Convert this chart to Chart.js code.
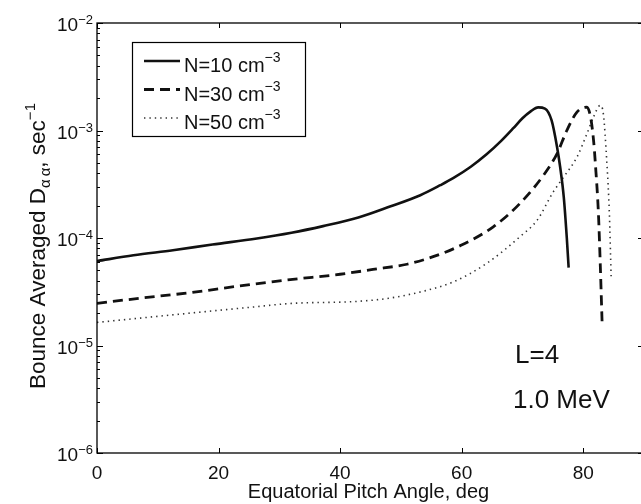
<!DOCTYPE html>
<html>
<head>
<meta charset="utf-8">
<title>Bounce Averaged D_aa vs Equatorial Pitch Angle</title>
<script src="https://cdn.jsdelivr.net/npm/chart.js"></script>
<style>
  html, body { margin:0; padding:0; background:#fff; overflow:hidden; }
  #wrap { width:641px; height:504px; overflow:hidden; }
  canvas { display:block; }
</style>
</head>
<body>
<div id="wrap"><canvas id="chart" width="652" height="504"></canvas></div>
<script>
// values (pitch angle in deg, D_aa in 1/sec)
const pitchN10 = [0, 6, 12.5, 19, 26.3, 32, 37.2, 43, 48.2, 53.2, 56.5, 58.6, 61.5, 64.1, 66.5, 68.5, 70.0, 71.3, 72.6, 73.7, 74.8, 75.7, 76.2, 76.8, 77.3, 77.6];
const daaN10   = [6.1e-5, 6.9e-5, 7.7e-5, 8.7e-5, 9.9e-5, 1.12e-4, 1.29e-4, 1.55e-4, 1.96e-4, 2.5e-4, 3.1e-4, 3.6e-4, 4.6e-4, 6.0e-4, 8.0e-4, 1.05e-3, 1.3e-3, 1.5e-3, 1.64e-3, 1.6e-3, 1.24e-3, 7.0e-4, 4.6e-4, 2.4e-4, 1.0e-4, 5.3e-5];

const pitchN30 = [0, 7, 15.3, 23, 31.8, 40, 45.4, 51, 55.3, 59.8, 65.2, 69.6, 73.7, 75.7, 77.3, 79.0, 80.6, 81.2, 81.7, 82.0, 82.5, 82.8, 83.1];
const daaN30   = [2.47e-5, 2.75e-5, 3.1e-5, 3.55e-5, 4.1e-5, 4.6e-5, 5.1e-5, 5.7e-5, 6.7e-5, 8.5e-5, 1.27e-4, 2.1e-4, 4.0e-4, 6.1e-4, 1.0e-3, 1.49e-3, 1.65e-3, 1.34e-3, 8.1e-4, 4.9e-4, 1.7e-4, 5.8e-5, 1.68e-5];

const pitchN50 = [0, 15.3, 26.3, 31.8, 42.7, 48, 53.7, 58.6, 64.1, 69.6, 72.4, 75.1, 76.8, 79.0, 80.6, 81.7, 82.8, 83.3, 83.9, 84.3, 84.6];
const daaN50   = [1.64e-5, 2.0e-5, 2.3e-5, 2.46e-5, 2.57e-5, 2.75e-5, 3.2e-5, 3.9e-5, 5.8e-5, 1.03e-4, 1.46e-4, 2.7e-4, 3.7e-4, 5.7e-4, 9.3e-4, 1.34e-3, 1.71e-3, 1.44e-3, 4.9e-4, 1.7e-4, 4.2e-5];

const seriesNames = ['N=10 cm', 'N=30 cm', 'N=50 cm'];
const seriesUnitExp = '\u22123';
const xTicks = [0, 20, 40, 60, 80];
const yTickExps = [-6, -5, -4, -3, -2];
const notes = ['L=4', '1.0 MeV'];

const FONT = '"Liberation Sans", Arial, Helvetica, sans-serif';
const toPts = (xs, ys) => xs.map((v, i) => ({ x: v, y: ys[i] }));

const styles = [
  { borderWidth: 2.6, borderDash: [], borderColor: '#111' },
  { borderWidth: 2.8, borderDash: [10, 6], borderColor: '#111' },
  { borderWidth: 1.6, borderDash: [1.4, 4], borderColor: '#333' }
];

function seg(ctx, x1, y1, x2, y2) {
  ctx.beginPath(); ctx.moveTo(x1, y1); ctx.lineTo(x2, y2); ctx.stroke();
}

// text with a raised/lowered small part
function drawPieces(ctx, pieces, x, y) {
  let cx = x;
  pieces.forEach(p => {
    ctx.font = p.size + 'px ' + FONT;
    ctx.fillText(p.t, cx, y + (p.dy || 0));
    cx += ctx.measureText(p.t).width;
  });
  return cx - x;
}
function piecesWidth(ctx, pieces) {
  let w = 0;
  pieces.forEach(p => { ctx.font = p.size + 'px ' + FONT; w += ctx.measureText(p.t).width; });
  return w;
}

const framePlugin = {
  id: 'frame',
  afterDraw(chart) {
    const { ctx, chartArea: a, scales: { x, y } } = chart;
    ctx.save();
    ctx.strokeStyle = '#000';
    ctx.fillStyle = '#111';
    ctx.lineWidth = 1.3;
    ctx.strokeRect(a.left, a.top, a.right - a.left, a.bottom - a.top);

    // ticks, pointing inward
    ctx.lineWidth = 1;
    xTicks.forEach(v => {
      const px = Math.round(x.getPixelForValue(v)) + 0.5;
      seg(ctx, px, a.bottom, px, a.bottom - 5);
      seg(ctx, px, a.top, px, a.top + 5);
    });
    yTickExps.forEach(e => {
      for (let m = 1; m < 10; m++) {
        if (e === -2 && m > 1) break;
        const py = Math.round(y.getPixelForValue(m * Math.pow(10, e))) + 0.5;
        const len = m === 1 ? 6 : 3;
        seg(ctx, a.left, py, a.left + len, py);
        seg(ctx, a.right, py, a.right - len, py);
      }
    });

    // x tick labels
    ctx.textAlign = 'center';
    ctx.textBaseline = 'alphabetic';
    ctx.font = '19px ' + FONT;
    xTicks.forEach(v => ctx.fillText(String(v), x.getPixelForValue(v), a.bottom + 26));

    // y tick labels 10^n
    ctx.textAlign = 'left';
    yTickExps.forEach(e => {
      const py = y.getPixelForValue(Math.pow(10, e));
      const pieces = [{ t: '10', size: 19 }, { t: '\u2212' + Math.abs(e), size: 13, dy: -7 }];
      const w = piecesWidth(ctx, pieces);
      drawPieces(ctx, pieces, a.left - 4 - w, py + 8);
    });

    // x title
    ctx.textAlign = 'center';
    ctx.font = '20px ' + FONT;
    ctx.fillText('Equatorial Pitch Angle, deg', (a.left + a.right) / 2 - 2, 498);

    // y title, rotated
    ctx.textAlign = 'left';
    const yt = [
      { t: 'Bounce Averaged D', size: 22.5 },
      { t: '\u03b1\u2009\u03b1', size: 15, dy: 5 },
      { t: ', sec', size: 22.5 },
      { t: '\u22121', size: 15, dy: -10 }
    ];
    const yw = piecesWidth(ctx, yt);
    ctx.save();
    ctx.translate(45, 246);
    ctx.rotate(-Math.PI / 2);
    drawPieces(ctx, yt, -yw / 2, 0);
    ctx.restore();

    // annotations
    ctx.font = '26px ' + FONT;
    ctx.fillText(notes[0], 515, 363);
    ctx.fillText(notes[1], 513, 408);

    // legend box
    const lx = 132, ly = 42, lw = 173, lh = 94;
    ctx.fillStyle = '#fff';
    ctx.fillRect(lx, ly, lw, lh);
    ctx.strokeStyle = '#000';
    ctx.lineWidth = 1.2;
    ctx.strokeRect(lx + 0.5, ly + 0.5, lw, lh);
    ctx.fillStyle = '#111';
    chart.data.datasets.forEach((ds, i) => {
      const ry = 61 + i * 28.5;
      ctx.save();
      ctx.strokeStyle = ds.borderColor;
      ctx.lineWidth = ds.borderWidth;
      ctx.setLineDash(ds.borderDash);
      seg(ctx, 144, ry, 180, ry);
      ctx.restore();
      drawPieces(ctx, [{ t: seriesNames[i], size: 20 }, { t: seriesUnitExp, size: 14, dy: -10 }], 184, ry + 11);
    });
    ctx.restore();
  }
};

new Chart(document.getElementById('chart').getContext('2d'), {
  type: 'line',
  data: {
    datasets: [
      { label: seriesNames[0] + ' cm\u207b\u00b3', data: toPts(pitchN10, daaN10), ...styles[0] },
      { label: seriesNames[1] + ' cm\u207b\u00b3', data: toPts(pitchN30, daaN30), ...styles[1] },
      { label: seriesNames[2] + ' cm\u207b\u00b3', data: toPts(pitchN50, daaN50), ...styles[2] }
    ].map(d => Object.assign(d, { pointRadius: 0, fill: false, cubicInterpolationMode: 'monotone' }))
  },
  options: {
    responsive: false,
    animation: false,
    devicePixelRatio: 1,
    layout: { padding: { left: 97, right: 8, top: 23, bottom: 51 } },
    plugins: { legend: { display: false }, tooltip: { enabled: false } },
    scales: {
      x: { type: 'linear', min: 0, max: 90, display: false },
      y: { type: 'logarithmic', min: 1e-6, max: 1e-2, display: false }
    }
  },
  plugins: [framePlugin]
});
</script>
</body>
</html>
